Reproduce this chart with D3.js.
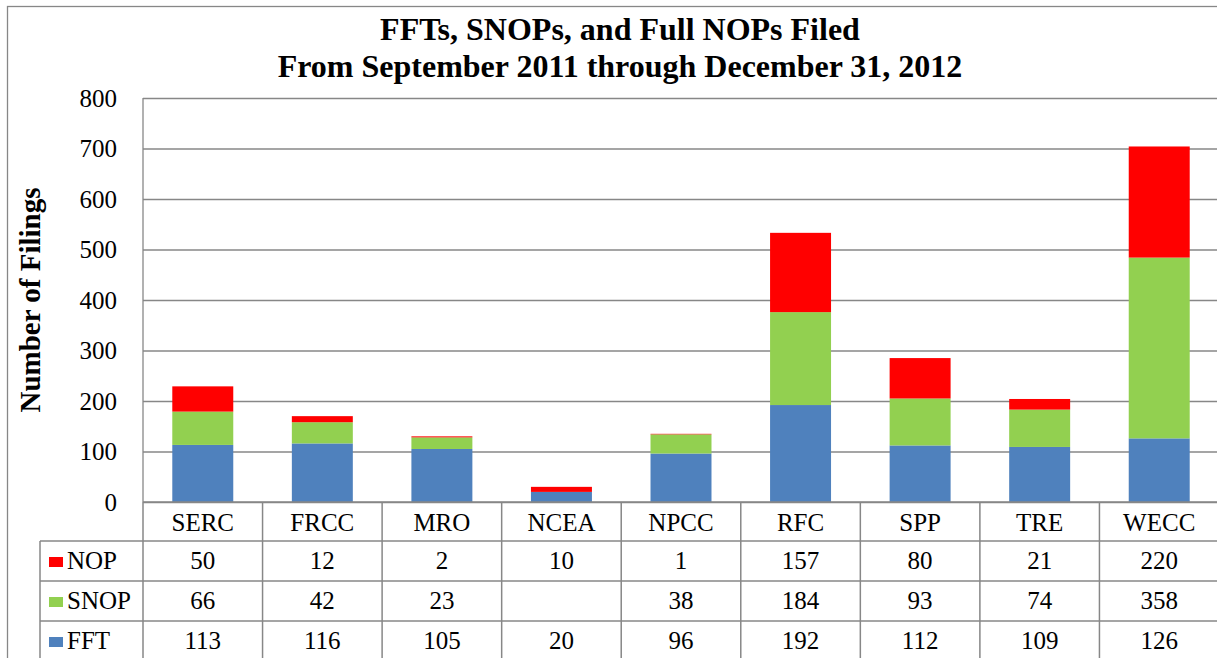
<!DOCTYPE html>
<html>
<head>
<meta charset="utf-8"/>
<script src="https://d3js.org/d3.v7.min.js"></script>
<style>
  body { margin: 0; background: #fff; }
</style>
</head>
<body>
<script>
var regions = ["SERC", "FRCC", "MRO", "NCEA", "NPCC", "RFC", "SPP", "TRE", "WECC"];
var fftVals  = [113, 116, 105, 20, 96, 192, 112, 109, 126];
var snopVals = [66, 42, 23, null, 38, 184, 93, 74, 358];
var nopVals  = [50, 12, 2, 10, 1, 157, 80, 21, 220];
var seriesNames = ["FFT", "SNOP", "NOP"];
var seriesColors = ["#4f81bd", "#92d050", "#ff0000"];
var yTicks = [0, 100, 200, 300, 400, 500, 600, 700, 800];

var W = 1217, H = 658;
var plotL = 143, plotR = 1219, plotT = 98, plotB = 502;
var rowH = 40, headH = 39, legL = 40;
var gridCol = "#878787";
var serif = "'Liberation Serif', 'Times New Roman', serif";

var svg = d3.select("body").append("svg")
  .attr("width", W).attr("height", H)
  .style("font-family", serif);

// outer chart border
svg.append("rect")
  .attr("x", 7.5).attr("y", 6.5)
  .attr("width", W + 20).attr("height", H + 20)
  .attr("fill", "none").attr("stroke", gridCol).attr("stroke-width", 1.3);

// title
svg.append("text").attr("x", 620).attr("y", 40)
  .attr("text-anchor", "middle").attr("font-weight", "bold").attr("font-size", 32)
  .style("font-family", serif)
  .text("FFTs, SNOPs, and Full NOPs Filed");
svg.append("text").attr("x", 620).attr("y", 77)
  .attr("text-anchor", "middle").attr("font-weight", "bold").attr("font-size", 32)
  .style("font-family", serif)
  .text("From September 2011 through December 31, 2012");

var x = d3.scaleBand().domain(regions).range([plotL, plotR]).paddingInner(0.49).paddingOuter(0.245);
var y = d3.scaleLinear().domain([0, 800]).range([plotB, plotT]);

// gridlines + tick labels
var yAxis = svg.append("g")
  .attr("transform", "translate(" + plotL + ",0)")
  .call(d3.axisLeft(y).tickValues(yTicks).tickSize(-(plotR - plotL)).tickPadding(26));
yAxis.select(".domain").remove();
yAxis.attr("font-family", null).attr("font-size", null);
yAxis.selectAll(".tick line").attr("stroke", gridCol).attr("stroke-width", 1.3);
yAxis.selectAll(".tick text")
  .attr("font-size", 25).style("font-family", serif).attr("fill", "#000");

// left axis line
svg.append("line")
  .attr("x1", plotL).attr("x2", plotL).attr("y1", plotT).attr("y2", plotB)
  .attr("stroke", gridCol).attr("stroke-width", 1.3);

// y title
svg.append("text")
  .attr("transform", "translate(40," + (plotT + plotB) / 2 + ") rotate(-90)")
  .attr("text-anchor", "middle").attr("font-weight", "bold").attr("font-size", 29)
  .style("font-family", serif)
  .text("Number of Filings");

// stacked bars
var rows = regions.map(function (r, i) {
  return { region: r, FFT: fftVals[i], SNOP: snopVals[i] || 0, NOP: nopVals[i] };
});
var stack = d3.stack().keys(seriesNames)(rows);

svg.append("g").selectAll("g")
  .data(stack)
  .enter().append("g")
  .attr("fill", function (d, i) { return seriesColors[i]; })
  .selectAll("rect")
  .data(function (d) { return d; })
  .enter().append("rect")
  .attr("x", function (d) { return x(d.data.region); })
  .attr("width", x.bandwidth())
  .attr("y", function (d) { return y(d[1]); })
  .attr("height", function (d) { return y(d[0]) - y(d[1]); });

// data table
var table = svg.append("g");
var step = x.step();
var colEdges = d3.range(regions.length + 1).map(function (i) { return plotL + i * step; });
var tableRows = [
  { name: "NOP", vals: nopVals, color: seriesColors[2] },
  { name: "SNOP", vals: snopVals, color: seriesColors[1] },
  { name: "FFT", vals: fftVals, color: seriesColors[0] }
];
var rowTop = function (i) { return plotB + headH + i * rowH; };
var tableB = rowTop(tableRows.length);

// horizontal rules
table.append("line")
  .attr("x1", plotL).attr("x2", plotR).attr("y1", plotB).attr("y2", plotB);
tableRows.forEach(function (r, i) {
  table.append("line")
    .attr("x1", legL).attr("x2", plotR).attr("y1", rowTop(i)).attr("y2", rowTop(i));
});
table.append("line")
  .attr("x1", legL).attr("x2", plotR).attr("y1", tableB).attr("y2", tableB);
// vertical rules
colEdges.forEach(function (cx) {
  table.append("line")
    .attr("x1", cx).attr("x2", cx).attr("y1", plotB).attr("y2", tableB);
});
table.append("line")
  .attr("x1", legL).attr("x2", legL).attr("y1", rowTop(0)).attr("y2", tableB);
table.selectAll("line").attr("stroke", gridCol).attr("stroke-width", 1.5);

// header labels
table.selectAll("text.head")
  .data(regions)
  .enter().append("text")
  .attr("class", "head")
  .attr("x", function (d) { return x(d) + x.bandwidth() / 2; })
  .attr("y", plotB + 29)
  .attr("text-anchor", "middle").attr("font-size", 25)
  .style("font-family", serif)
  .text(function (d) { return d; });

tableRows.forEach(function (r, i) {
  var top = rowTop(i);
  table.append("rect")
    .attr("x", 49).attr("y", top + 16).attr("width", 14).attr("height", 10)
    .attr("fill", r.color);
  table.append("text")
    .attr("x", 67).attr("y", top + 28).attr("font-size", 25)
    .style("font-family", serif)
    .text(r.name);
  table.selectAll("text.v" + i)
    .data(r.vals)
    .enter().append("text")
    .attr("class", "v" + i)
    .attr("x", function (d, j) { return x(regions[j]) + x.bandwidth() / 2; })
    .attr("y", top + 28)
    .attr("text-anchor", "middle").attr("font-size", 25)
    .style("font-family", serif)
    .text(function (d) { return d == null ? "" : d; });
});
</script>
</body>
</html>
